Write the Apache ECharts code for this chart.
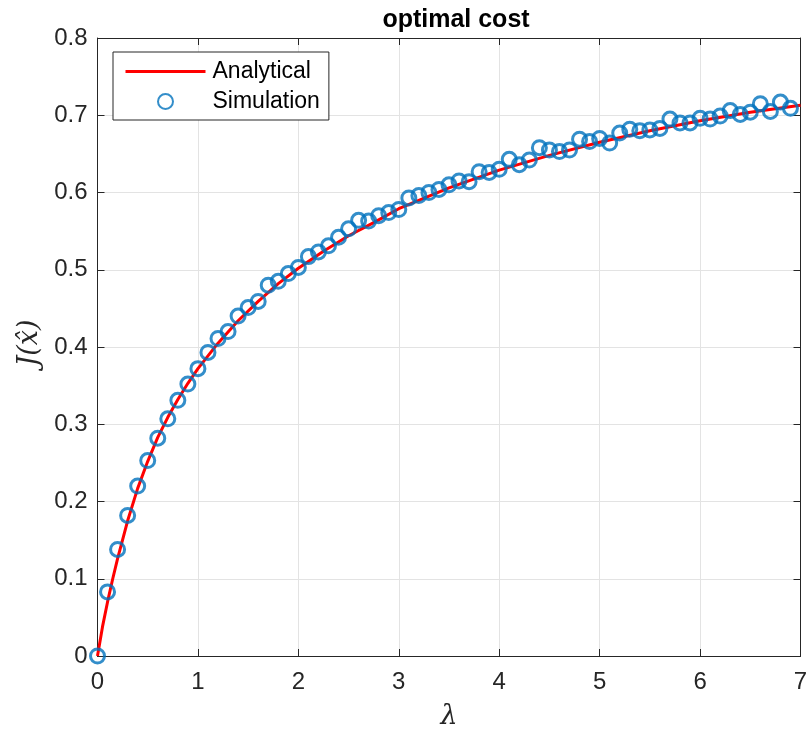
<!DOCTYPE html>
<html>
<head>
<meta charset="utf-8">
<style>
  html, body { margin: 0; padding: 0; background: #fff; }
  #chart { width: 810px; height: 732px; }
</style>
<script src="https://cdn.jsdelivr.net/npm/echarts@6/dist/echarts.min.js"></script>
</head>
<body>
<div id="chart"></div>
<script>
// Analytical optimal cost J(x̂) against λ
const analyticLambda = [0, 0.05, 0.1, 0.15, 0.2, 0.3, 0.4, 0.5, 0.6, 0.7, 0.8, 0.9, 1.0, 1.2, 1.4, 1.6, 1.8, 2.0, 2.25, 2.5, 2.75, 3.0, 3.5, 4.0, 4.5, 5.0, 5.5, 6.0, 6.5, 7.0];
const analyticCost = [0, 0.038, 0.070, 0.099, 0.126, 0.175, 0.217, 0.252, 0.283, 0.309, 0.332, 0.353, 0.372, 0.405, 0.434, 0.459, 0.482, 0.502, 0.524, 0.544, 0.561, 0.579, 0.606, 0.629, 0.648, 0.665, 0.680, 0.693, 0.704, 0.713];

// Simulated cost, one run per λ step of 0.1
const simLambda = [0, 0.1, 0.2, 0.3, 0.4, 0.5, 0.6, 0.7, 0.8, 0.9,
  1.0, 1.1, 1.2, 1.3, 1.4, 1.5, 1.6, 1.7, 1.8, 1.9,
  2.0, 2.1, 2.2, 2.3, 2.4, 2.5, 2.6, 2.7, 2.8, 2.9,
  3.0, 3.1, 3.2, 3.3, 3.4, 3.5, 3.6, 3.7, 3.8, 3.9,
  4.0, 4.1, 4.2, 4.3, 4.4, 4.5, 4.6, 4.7, 4.8, 4.9,
  5.0, 5.1, 5.2, 5.3, 5.4, 5.5, 5.6, 5.7, 5.8, 5.9,
  6.0, 6.1, 6.2, 6.3, 6.4, 6.5, 6.6, 6.7, 6.8, 6.9];
const simCost = [0, 0.083, 0.138, 0.182, 0.220, 0.253, 0.282, 0.307, 0.331, 0.352,
  0.372, 0.393, 0.411, 0.420, 0.440, 0.451, 0.459, 0.480, 0.485, 0.495,
  0.503, 0.517, 0.523, 0.531, 0.542, 0.553, 0.564, 0.563, 0.570, 0.574,
  0.578, 0.593, 0.596, 0.600, 0.604, 0.610, 0.615, 0.614, 0.627, 0.626,
  0.630, 0.643, 0.636, 0.642, 0.658, 0.655, 0.653, 0.655, 0.669, 0.666,
  0.670, 0.664, 0.677, 0.682, 0.680, 0.681, 0.683, 0.695, 0.690, 0.690,
  0.696, 0.695, 0.699, 0.706, 0.701, 0.704, 0.715, 0.705, 0.717, 0.709];

const xTicks = [0, 1, 2, 3, 4, 5, 6, 7];
const yTicks = [0, 0.1, 0.2, 0.3, 0.4, 0.5, 0.6, 0.7, 0.8];

const axisColor = '#262626';
const gridColor = '#e3e3e3';
const font = '"Liberation Sans", Arial, Helvetica, sans-serif';
const mathFont = '"DejaVu Serif", "Liberation Serif", serif';

const analyticData = analyticLambda.map((l, i) => [l, analyticCost[i]]);
const simData = simLambda.map((l, i) => [l, simCost[i]]);

const chart = echarts.init(document.getElementById('chart'), null, { renderer: 'canvas' });

const baseX = {
  type: 'value',
  min: xTicks[0],
  max: xTicks[xTicks.length - 1],
  interval: 1,
  axisLine: { show: true, onZero: false, lineStyle: { color: axisColor, width: 1 } },
  axisTick: { show: true, inside: true, length: 7, lineStyle: { color: axisColor } },
};
const baseY = {
  type: 'value',
  min: yTicks[0],
  max: yTicks[yTicks.length - 1],
  interval: 0.1,
  axisLine: { show: true, onZero: false, lineStyle: { color: axisColor, width: 1 } },
  axisTick: { show: true, inside: true, length: 7, lineStyle: { color: axisColor } },
};

chart.setOption({
  animation: false,
  backgroundColor: '#ffffff',
  title: {
    text: 'optimal cost',
    left: 451,
    textAlign: 'center',
    top: 3,
    textStyle: { fontFamily: font, fontWeight: 'bold', fontSize: 25, color: '#000' }
  },
  grid: { left: 97.5, right: 9.5, top: 38, bottom: 76, containLabel: false, outerBoundsMode: 'none' },
  legend: {
    orient: 'vertical',
    left: 113,
    top: 52,
    padding: [8, 9, 7, 11],
    itemGap: 7,
    itemWidth: 80,
    itemHeight: 15,
    backgroundColor: '#ffffff',
    borderColor: axisColor,
    borderWidth: 1,
    borderRadius: 0,
    textStyle: { fontFamily: font, fontSize: 23, color: '#000', padding: [0, 0, 0, 2] },
    data: [
      { name: 'Analytical', itemStyle: { opacity: 0 }, lineStyle: { color: '#ff0000', width: 3 } },
      { name: 'Simulation' }
    ]
  },
  xAxis: [
    Object.assign({}, baseX, {
      position: 'bottom',
      name: 'λ',
      nameLocation: 'middle',
      nameGap: 47,
      nameTextStyle: { fontFamily: mathFont, fontStyle: 'italic', fontSize: 27, color: axisColor },
      axisLabel: { show: true, margin: 14, fontFamily: font, fontSize: 24, color: axisColor },
      splitLine: { show: true, lineStyle: { color: gridColor, width: 1 } }
    }),
    Object.assign({}, baseX, {
      position: 'top',
      axisLabel: { show: false },
      splitLine: { show: false }
    })
  ],
  yAxis: [
    Object.assign({}, baseY, {
      position: 'left',
      name: 'J(x\u0302)',
      nameLocation: 'middle',
      nameRotate: 90,
      nameGap: 41,
      nameTextStyle: { fontFamily: mathFont, fontStyle: 'italic', fontSize: 27, color: axisColor, padding: [0, 0, 0, 8] },
      axisLabel: {
        show: true, margin: 10, fontFamily: font, fontSize: 24, color: axisColor,
        formatter: v => (v === 0 ? '0' : v.toFixed(1))
      },
      splitLine: { show: true, lineStyle: { color: gridColor, width: 1 } }
    }),
    Object.assign({}, baseY, {
      position: 'right',
      axisLabel: { show: false },
      splitLine: { show: false }
    })
  ],
  series: [
    {
      name: 'Analytical',
      type: 'line',
      data: analyticData,
      smooth: false,
      symbol: 'none',
      lineStyle: { color: '#ff0000', width: 3 },
      itemStyle: { color: '#ff0000' },
      z: 2
    },
    {
      name: 'Simulation',
      type: 'scatter',
      data: simData,
      symbol: 'circle',
      symbolSize: 14,
      itemStyle: { color: 'rgba(0,0,0,0)', borderColor: '#0072bd', borderWidth: 3 },
      z: 3
    }
  ]
});
</script>
</body>
</html>
